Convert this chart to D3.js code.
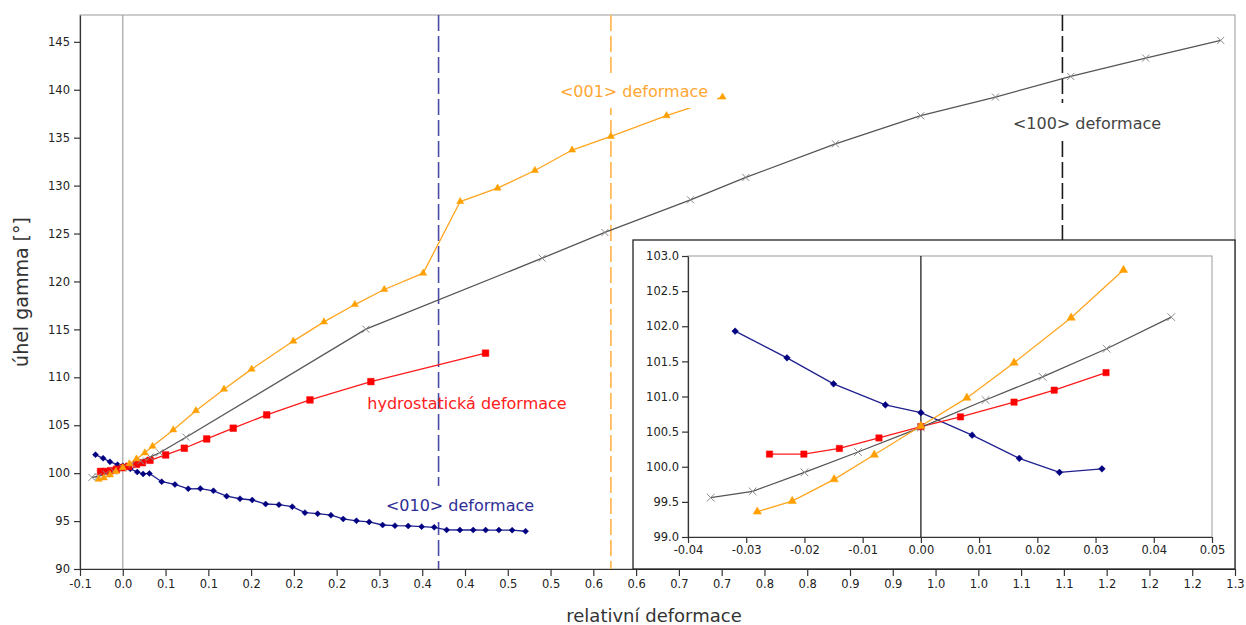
<!DOCTYPE html>
<html>
<head>
<meta charset="utf-8">
<script src="https://cdn.jsdelivr.net/npm/d3@7"></script>
<style>
  html, body { margin: 0; padding: 0; background: #fff; }
  svg { display: block; }
</style>
</head>
<body>
<svg id="chart" width="1246" height="625"></svg>
<script>
// ---- tick positions and printed labels ----
const xTickValues = [-0.05, 0, 0.05, 0.1, 0.15, 0.2, 0.25, 0.3, 0.35, 0.4, 0.45, 0.5, 0.55, 0.6,
                     0.65, 0.7, 0.75, 0.8, 0.85, 0.9, 0.95, 1.0, 1.05, 1.1, 1.15, 1.2, 1.25, 1.3];
const xTickLabels = ["-0.1", "0.0", "0.1", "0.1", "0.2", "0.2", "0.2", "0.3", "0.4", "0.4", "0.5", "0.5", "0.6", "0.6",
                     "0.7", "0.7", "0.8", "0.8", "0.9", "0.9", "1.0", "1.0", "1.1", "1.1", "1.2", "1.2", "1.2", "1.3"];
const yTickValues = [90, 95, 100, 105, 110, 115, 120, 125, 130, 135, 140, 145];

const insetXTicks = [-0.04, -0.03, -0.02, -0.01, 0, 0.01, 0.02, 0.03, 0.04, 0.05];
const insetXLabels = ["-0.04", "-0.03", "-0.02", "-0.01", "0.00", "0.01", "0.02", "0.03", "0.04", "0.05"];
const insetYTicks = [99.0, 99.5, 100.0, 100.5, 101.0, 101.5, 102.0, 102.5, 103.0];

// ---- gamma angle vs. relative strain ----
// <100> strain
const strain100X = [-0.0361, -0.0289, -0.0200, -0.0108, 0, 0.0111, 0.0209, 0.0319, 0.0430,
                    0.0739, 0.2842, 0.4902, 0.5635, 0.6636, 0.7282, 0.833, 0.9327, 1.020, 1.108, 1.1956, 1.2833];
const strain100Y = [99.56, 99.65, 99.92, 100.21, 100.56, 100.95, 101.28, 101.68, 102.13,
                    103.75, 115.02, 122.43, 125.11, 128.52, 130.85, 134.36, 137.29, 139.24, 141.39, 143.31, 145.15];
// <001> strain
const strain001X = [-0.0281, -0.0221, -0.0149, -0.0080, 0, 0.0079, 0.0160, 0.0258, 0.0348,
                    0.059, 0.0855, 0.1183, 0.1506, 0.1993, 0.2351, 0.2713, 0.3056, 0.3511,
                    0.3944, 0.4381, 0.4817, 0.5252, 0.5705, 0.6356, 0.7010];
const strain001Y = [99.36, 99.51, 99.82, 100.17, 100.58, 100.98, 101.48, 102.12, 102.80,
                    104.51, 106.52, 108.76, 110.85, 113.78, 115.78, 117.59, 119.16, 120.87,
                    128.34, 129.74, 131.58, 133.71, 135.13, 137.29, 139.24];
// hydrostatic strain
const hydroX = [-0.0260, -0.0201, -0.0140, -0.0072, 0, 0.0068, 0.0160, 0.0229, 0.0318,
                0.0501, 0.0719, 0.0981, 0.1291, 0.1682, 0.2188, 0.290, 0.424];
const hydroY = [100.18, 100.18, 100.26, 100.41, 100.57, 100.71, 100.92, 101.09, 101.34,
                101.90, 102.60, 103.57, 104.69, 106.08, 107.64, 109.55, 112.52];
// <010> strain
const strain010X = [-0.0319, -0.0230, -0.0150, -0.0061, 0, 0.0088, 0.0169, 0.0238, 0.0311,
                    0.0455, 0.0610, 0.0765, 0.0906, 0.1060, 0.1214, 0.1370, 0.1513, 0.1670, 0.1825,
                    0.1981, 0.2129, 0.2278, 0.2433, 0.2577, 0.2731, 0.2880, 0.3037, 0.3181, 0.3336,
                    0.3493, 0.3640, 0.3785, 0.3940, 0.4096, 0.4241, 0.4396, 0.4551, 0.4708];
const strain010Y = [101.93, 101.55, 101.18, 100.88, 100.77, 100.45, 100.12, 99.92, 99.97,
                    99.11, 98.82, 98.37, 98.39, 98.16, 97.60, 97.33, 97.20, 96.78, 96.71,
                    96.50, 95.88, 95.77, 95.61, 95.22, 95.03, 94.91, 94.59, 94.52, 94.49,
                    94.42, 94.35, 94.08, 94.07, 94.07, 94.06, 94.06, 94.05, 93.94];

// strain limits marked by dashed verticals: <010>, <001>, <100>
const limit010 = 0.3691;
const limit001 = 0.5705;
const limit100 = 1.0983;

// number of fine-step points around zero strain (shown in the inset)
const nearZeroCount = 9;

// ---------------------------------------------------------------
const svg = d3.select("#chart");
const FONT = "'DejaVu Sans', 'Liberation Sans', sans-serif";

const plot = { left: 80, right: 1235, top: 15, bottom: 569 };
const x = d3.scaleLinear().domain([-0.05, 1.3]).range([plot.left, plot.right]);
const y = d3.scaleLinear().domain([90, 147.8]).range([plot.bottom, plot.top]);

const zip = (xs, ys) => xs.map((v, i) => [v, ys[i]]);

const series = [
  { key: "s010", pts: zip(strain010X, strain010Y), line: "#1f1f8f", mark: "#000080", shape: "diamond" },
  { key: "hydro", pts: zip(hydroX, hydroY), line: "#ff1a1a", mark: "#ff0000", shape: "square" },
  { key: "s100", pts: zip(strain100X, strain100Y), line: "#555555", mark: "#8a8a8a", shape: "times" },
  { key: "s001", pts: zip(strain001X, strain001Y), line: "#ffa51e", mark: "#ffa000", shape: "triangle" }
];

function markerPath(shape, big) {
  if (shape === "diamond") return d3.symbol(d3.symbolSquare, big ? 22 : 18)();
  if (shape === "square") return d3.symbol(d3.symbolSquare, big ? 40 : 44)();
  if (shape === "triangle") return d3.symbol(d3.symbolTriangle, big ? 30 : 22)();
  return d3.symbol(d3.symbolTimes, big ? 40 : 34)();
}

function drawSeries(g, sx, sy, list, big) {
  const line = d3.line().x(d => sx(d[0])).y(d => sy(d[1]));
  list.forEach(s => {
    g.append("path").datum(s.pts)
      .attr("d", line).attr("fill", "none")
      .attr("stroke", s.line).attr("stroke-width", 1.3);
  });
  list.forEach(s => {
    const p = markerPath(s.shape, big);
    g.selectAll(null).data(s.pts).enter().append("path")
      .attr("d", p)
      .attr("transform", d => `translate(${sx(d[0])},${sy(d[1])})` + (s.shape === "diamond" ? " rotate(45)" : ""))
      .attr("fill", s.shape === "times" ? "none" : s.mark)
      .attr("stroke", s.mark)
      .attr("stroke-width", s.shape === "times" ? 1 : 0.5);
  });
}

function styleAxis(g, size, color) {
  g.attr("font-family", FONT).attr("font-size", size);
  g.selectAll("path.domain").attr("stroke", "#333").attr("stroke-width", 1.2);
  g.selectAll(".tick line").attr("stroke", "#333").attr("stroke-width", 1.2);
  g.selectAll(".tick text").attr("fill", color);
}

// ---- main plot frame ----
svg.append("rect")
  .attr("x", plot.left).attr("y", plot.top)
  .attr("width", plot.right - plot.left).attr("height", plot.bottom - plot.top)
  .attr("fill", "none").attr("stroke", "#9a9a9a").attr("stroke-width", 1);

// zero-strain line
svg.append("line")
  .attr("x1", x(0)).attr("x2", x(0)).attr("y1", plot.top).attr("y2", plot.bottom)
  .attr("stroke", "#a8a8a8").attr("stroke-width", 1.3);

// dashed strain limits
[[limit010, "#4a4aa6"], [limit001, "#ffb347"], [limit100, "#1a1a1a"]].forEach(([v, c]) => {
  svg.append("line")
    .attr("x1", x(v)).attr("x2", x(v)).attr("y1", plot.top).attr("y2", plot.bottom)
    .attr("stroke", c).attr("stroke-width", 1.6).attr("stroke-dasharray", "16,5");
});

// axes
const gx = svg.append("g").attr("transform", `translate(0,${plot.bottom})`)
  .call(d3.axisBottom(x).tickValues(xTickValues).tickFormat((d, i) => xTickLabels[i])
        .tickSizeInner(7).tickSizeOuter(0).tickPadding(4));
styleAxis(gx, 11.5, "#222");

const gy = svg.append("g").attr("transform", `translate(${plot.left},0)`)
  .call(d3.axisLeft(y).tickValues(yTickValues).tickSizeInner(6).tickSizeOuter(0).tickPadding(4));
styleAxis(gy, 11.5, "#222");

// series
const gMain = svg.append("g");
drawSeries(gMain, x, y, series, false);

// annotations with white backing boxes
function label(txt, cx, cy, color, box) {
  if (box) {
    svg.append("rect")
      .attr("x", box[0]).attr("y", box[1]).attr("width", box[2] - box[0]).attr("height", box[3] - box[1])
      .attr("fill", "#fff");
  }
  svg.append("text")
    .attr("x", cx).attr("y", cy).attr("text-anchor", "middle").attr("dominant-baseline", "central")
    .attr("font-family", FONT).attr("font-size", 16).attr("fill", color)
    .text(txt);
}
label("<001> deformace", 634, 91, "#ffa733", [552, 73, 717, 108]);
label("<100> deformace", 1087, 123, "#444444", [1005, 103, 1170, 140]);
label("hydrostatická deformace", 467, 403, "#ff2020", null);
label("<010> deformace", 460, 505, "#2e2e96", [378, 486, 542, 522]);

// axis titles
svg.append("text")
  .attr("x", 654).attr("y", 615).attr("text-anchor", "middle").attr("dominant-baseline", "central")
  .attr("font-family", FONT).attr("font-size", 18).attr("fill", "#333")
  .text("relativní deformace");
svg.append("text")
  .attr("transform", "translate(21,292) rotate(-90)")
  .attr("text-anchor", "middle").attr("dominant-baseline", "central")
  .attr("font-family", FONT).attr("font-size", 19).attr("fill", "#333")
  .text("úhel gamma [°]");

// ---- inset: detail around zero strain ----
const inset = { left: 633, top: 240, right: plot.right, bottom: plot.bottom };
const ip = { left: 688, right: 1212, top: 256, bottom: 537 };

svg.append("rect")
  .attr("x", inset.left).attr("y", inset.top)
  .attr("width", inset.right - inset.left).attr("height", inset.bottom - inset.top)
  .attr("fill", "#fff").attr("stroke", "#222").attr("stroke-width", 1.3);

const ix = d3.scaleLinear().domain([-0.04, 0.05]).range([ip.left, ip.right]);
const iy = d3.scaleLinear().domain([99, 103]).range([ip.bottom, ip.top]);

svg.append("rect")
  .attr("x", ip.left).attr("y", ip.top).attr("width", ip.right - ip.left).attr("height", ip.bottom - ip.top)
  .attr("fill", "none").attr("stroke", "#9a9a9a").attr("stroke-width", 1);

svg.append("line")
  .attr("x1", ix(0)).attr("x2", ix(0)).attr("y1", ip.top).attr("y2", ip.bottom)
  .attr("stroke", "#111").attr("stroke-width", 1.2);

const igx = svg.append("g").attr("transform", `translate(0,${ip.bottom})`)
  .call(d3.axisBottom(ix).tickValues(insetXTicks).tickFormat((d, i) => insetXLabels[i])
        .tickSizeInner(6).tickSizeOuter(0).tickPadding(3));
styleAxis(igx, 11.5, "#222");

const igy = svg.append("g").attr("transform", `translate(${ip.left},0)`)
  .call(d3.axisLeft(iy).tickValues(insetYTicks).tickFormat(d3.format(".1f"))
        .tickSizeInner(6).tickSizeOuter(0).tickPadding(3));
styleAxis(igy, 11.5, "#222");

const insetSeries = series.map(s => Object.assign({}, s, { pts: s.pts.slice(0, nearZeroCount) }));
const gInset = svg.append("g");
drawSeries(gInset, ix, iy, insetSeries, true);
</script>
</body>
</html>
